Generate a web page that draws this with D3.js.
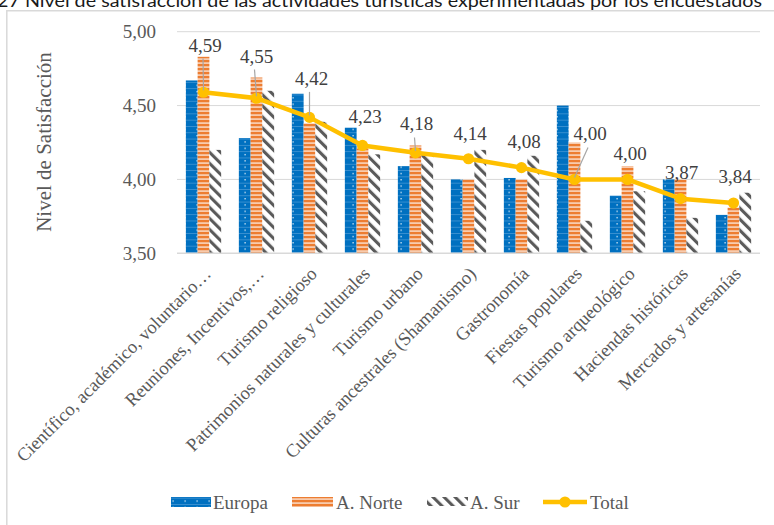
<!DOCTYPE html>
<html><head><meta charset="utf-8">
<script src="https://cdn.jsdelivr.net/npm/d3@7"></script>
<style>html,body{margin:0;padding:0;background:#fff;overflow:hidden}</style>
</head><body>
<script>
const categories = ["Científico, académico, voluntario…", "Reuniones, Incentivos,…", "Turismo religioso",
  "Patrimonios naturales y culturales", "Turismo urbano", "Culturas ancestrales (Shamanismo)", "Gastronomía",
  "Fiestas populares", "Turismo arqueológico", "Haciendas históricas", "Mercados y artesanías"];
const europa = [4.67, 4.28, 4.58, 4.35, 4.09, 4.00, 4.01, 4.50, 3.89, 4.00, 3.76];
const norte  = [4.83, 4.69, 4.38, 4.21, 4.23, 4.00, 4.00, 4.25, 4.09, 4.00, 3.81];
const sur    = [4.20, 4.60, 4.39, 4.17, 4.17, 4.20, 4.16, 3.72, 3.92, 3.74, 3.91];
const total  = [4.59, 4.55, 4.42, 4.23, 4.18, 4.14, 4.08, 4.00, 4.00, 3.87, 3.84];
const yTicks = [3.5, 4.0, 4.5, 5.0];
const seriesNames = ["Europa", "A. Norte", "A. Sur", "Total"];
const titleText = "27 Nivel de satisfacción de las actividades turísticas experimentadas por los encuestados";
const yTitle = "Nivel de Satisfacción";
// label layout (offsets from the point) and leader-line flags
const labelDx = [1.5, 0, 2, 2.5, 1, 1.5, 2.5, 15.5, 2.5, 1, 1.5];
const labelDy = [-40.7, -35.6, -32.5, -22.4, -22.4, -19, -19.6, -39, -19.7, -19.6, -20];
const leader  = [true, true, true, false, true, false, false, true, false, false, false];

const W = 774, H = 525;
const fmt = v => d3.format(".2f")(v).replace(".", ",");
const svg = d3.select("body").append("svg").attr("width", W).attr("height", H)
  .style("font-family", "'Liberation Serif', 'Times New Roman', serif");

const defs = svg.append("defs");
// Europa pattern: blue with white dots and faint lines
const pE = defs.append("pattern").attr("id", "pE").attr("patternUnits", "userSpaceOnUse").attr("width", 12).attr("height", 6.3);
pE.append("rect").attr("width", 12).attr("height", 6.3).attr("fill", "#0070C0");
pE.append("rect").attr("y", 0).attr("width", 12).attr("height", 0.7).attr("fill", "#4C9BD6");
pE.append("rect").attr("x", 4.5).attr("y", 2.8).attr("width", 1.2).attr("height", 1.2).attr("fill", "#ffffff");
// Norte pattern: horizontal stripes
const pN = defs.append("pattern").attr("id", "pN").attr("patternUnits", "userSpaceOnUse").attr("width", 10).attr("height", 4);
pN.append("rect").attr("width", 10).attr("height", 4).attr("fill", "#F8CBAD");
pN.append("rect").attr("width", 10).attr("height", 2.2).attr("fill", "#ED7D31");
// Sur pattern: diagonal stripes
const pS = defs.append("pattern").attr("id", "pS").attr("patternUnits", "userSpaceOnUse").attr("width", 7.8).attr("height", 7.8)
  .attr("patternTransform", "rotate(-45)");
pS.append("rect").attr("width", 7.8).attr("height", 7.8).attr("fill", "#ffffff");
pS.append("rect").attr("width", 3.1).attr("height", 7.8).attr("fill", "#5a5a5a");

// frame
svg.append("path").attr("d", `M6.8,${H} V10.8 H${W}`).attr("fill", "none").attr("stroke", "#d9d9d9").attr("stroke-width", 1.5);

// title (clipped at the top edge, as in the reference)
svg.append("text").attr("x", -3).attr("y", 7).attr("textLength", 765).attr("lengthAdjust", "spacingAndGlyphs")
  .style("font-family", "Lato, 'Open Sans', sans-serif").style("font-size", "18px").attr("fill", "#1a1a1a").text(titleText);

const x0 = d3.scaleBand().domain(categories).range([177, 760]).paddingInner(0).paddingOuter(0);
const y = d3.scaleLinear().domain([3.5, 5]).range([253.3, 31.7]);
const barW = x0.bandwidth() * 0.222;

// gridlines
svg.append("g").selectAll("line").data(yTicks.slice(1)).join("line")
  .attr("x1", 177).attr("x2", 760).attr("y1", d => y(d)).attr("y2", d => y(d))
  .attr("stroke", "#d9d9d9").attr("stroke-width", 1);

// y axis labels
const yAxis = d3.axisLeft(y).tickValues(yTicks).tickFormat(fmt).tickSize(0).tickPadding(0);
const gy = svg.append("g").attr("transform", "translate(156,0)").call(yAxis);
gy.select(".domain").remove();
gy.selectAll("text").attr("fill", "#595959").style("font-size", "19px").style("font-family", "'Liberation Serif', serif");

// y title
svg.append("text").attr("transform", `translate(51,142) rotate(-90)`).attr("text-anchor", "middle")
  .attr("fill", "#595959").style("font-size", "21px").text(yTitle);

// bars
const series = [{vals: europa, fill: "url(#pE)"}, {vals: norte, fill: "url(#pN)"}, {vals: sur, fill: "url(#pS)"}];
const gBars = svg.append("g");
series.forEach((s, si) => {
  gBars.selectAll(null).data(categories).join("rect")
    .attr("x", (c) => x0(c) + x0.bandwidth() / 2 - 1.5 * barW + si * barW)
    .attr("width", barW)
    .attr("y", (c, i) => y(s.vals[i]))
    .attr("height", (c, i) => y(3.5) - y(s.vals[i]))
    .attr("fill", s.fill);
});

// x axis line
svg.append("line").attr("x1", 177).attr("x2", 760).attr("y1", y(3.5)).attr("y2", y(3.5))
  .attr("stroke", "#d9d9d9").attr("stroke-width", 1.5);

// x labels
const xAxis = d3.axisBottom(x0).tickSize(0).tickPadding(0);
const gx = svg.append("g").attr("transform", `translate(0,${y(3.5)})`).call(xAxis);
gx.select(".domain").remove();
gx.selectAll("text").attr("fill", "#595959").style("font-size", "18.5px").style("font-family", "'Liberation Serif', serif")
  .attr("text-anchor", "end").attr("y", 0).attr("dy", "0.35em")
  .attr("transform", "translate(4,17) rotate(-45)");

// total line
const cx = c => x0(c) + x0.bandwidth() / 2;
const line = d3.line().x((d, i) => cx(categories[i])).y(d => y(d));
svg.append("path").datum(total).attr("d", line).attr("fill", "none").attr("stroke", "#FFC000").attr("stroke-width", 4.5)
  .attr("stroke-linejoin", "round");
svg.append("g").selectAll("circle").data(total).join("circle")
  .attr("cx", (d, i) => cx(categories[i])).attr("cy", d => y(d)).attr("r", 5.6).attr("fill", "#FFC000");

// leader lines
svg.append("g").selectAll("line").data(total.map((v, i) => i).filter(i => leader[i])).join("line")
  .attr("x1", i => cx(categories[i]) + labelDx[i] - 2).attr("y1", i => y(total[i]) + labelDy[i] + 7)
  .attr("x2", i => cx(categories[i])).attr("y2", i => y(total[i]) - 2)
  .attr("stroke", "#a6a6a6").attr("stroke-width", 1.2);

// data labels
svg.append("g").selectAll("text").data(total).join("text")
  .attr("x", (d, i) => cx(categories[i]) + labelDx[i]).attr("y", (d, i) => y(d) + labelDy[i])
  .attr("text-anchor", "middle").attr("fill", "#404040").style("font-size", "19px").text(fmt);

// legend
const lg = svg.append("g");
const ly = 502;
lg.append("rect").attr("x", 171).attr("y", ly - 5).attr("width", 40).attr("height", 10).attr("fill", "url(#pE)");
lg.append("text").attr("x", 213).attr("y", ly + 6.5).attr("fill", "#595959").style("font-size", "19px").text(seriesNames[0]);
lg.append("rect").attr("x", 292).attr("y", ly - 5).attr("width", 41).attr("height", 10).attr("fill", "url(#pN)");
lg.append("text").attr("x", 336).attr("y", ly + 6.5).attr("fill", "#595959").style("font-size", "19px").text(seriesNames[1]);
lg.append("rect").attr("x", 427).attr("y", ly - 5).attr("width", 41).attr("height", 9).attr("fill", "url(#pS)");
lg.append("text").attr("x", 470).attr("y", ly + 6.5).attr("fill", "#595959").style("font-size", "19px").text(seriesNames[2]);
lg.append("line").attr("x1", 543).attr("x2", 587).attr("y1", ly).attr("y2", ly).attr("stroke", "#FFC000").attr("stroke-width", 4.5);
lg.append("circle").attr("cx", 565).attr("cy", ly).attr("r", 5.6).attr("fill", "#FFC000");
lg.append("text").attr("x", 590).attr("y", ly + 6.5).attr("fill", "#595959").style("font-size", "19px").text(seriesNames[3]);
</script>
</body></html>
